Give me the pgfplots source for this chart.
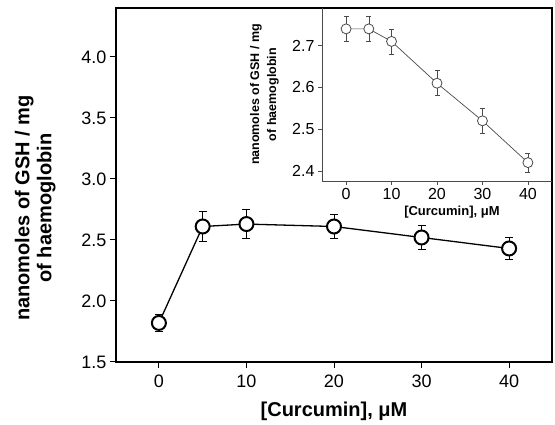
\documentclass[border=0pt]{standalone}
\usepackage{fontspec}
\setmainfont{Liberation Sans}
\usepackage{pgfplots}
\pgfplotsset{compat=1.18}

\definecolor{insetgray}{HTML}{4A4A4A}

\begin{document}
\begin{tikzpicture}
  % main axis
  \begin{axis}[
    at={(116pt,63pt)}, anchor=south west,
    scale only axis,
    width=436pt, height=354pt,
    xmin=-4.9, xmax=44.9,
    ymin=1.5, ymax=4.4,
    xtick={0,10,20,30,40},
    ytick={1.5,2.0,2.5,3.0,3.5,4.0},
    yticklabel style={/pgf/number format/.cd, fixed, fixed zerofill, precision=1},
    xticklabel style={yshift=-3pt},
    /pgf/number format/assume math mode=true,
    tick align=outside, tick pos=left,
    major tick length=6pt,
    tick style={black, line width=1pt},
    axis line style={line width=1.8pt},
    ticklabel style={font=\fontsize{18}{18}\selectfont},
    xlabel={\bfseries [Curcumin], μM},
    xlabel style={at={(axis description cs:0.5,-0.14)}, anchor=center,
      font=\fontsize{20}{22}\selectfont},
    ylabel={\bfseries nanomoles of GSH / mg\\\bfseries of haemoglobin},
    ylabel style={at={(axis description cs:-0.185,0.435)}, anchor=center,
      align=center, font=\fontsize{20}{22}\selectfont},
  ]
    \addplot[black, line width=1.3pt,
      mark=*, mark size=7pt,
      mark options={fill=white, draw=black, line width=2pt},
      error bars/.cd, y dir=both, y explicit,
      error bar style={line width=1pt, black},
      error mark options={rotate=90, mark size=4pt, line width=1pt, black}]
    coordinates {
      (0,1.82)  +- (0,0.07)
      (5,2.61)  +- (0,0.12)
      (10,2.63) +- (0,0.12)
      (20,2.61) +- (0,0.10)
      (30,2.52) +- (0,0.095)
      (40,2.43) +- (0,0.09)
    };
  \end{axis}

  % inset
  \begin{axis}[
    at={(322pt,244pt)}, anchor=south west,
    scale only axis,
    width=230pt, height=173pt,
    xmin=-5.3, xmax=45.3,
    ymin=2.376, ymax=2.79,
    axis x line*=bottom, axis y line*=left,
    xtick={0,10,20,30,40},
    ytick={2.4,2.5,2.6,2.7},
    yticklabel style={/pgf/number format/.cd, fixed, fixed zerofill, precision=1},
    /pgf/number format/assume math mode=true,
    tick align=outside,
    major tick length=4pt,
    tick style={insetgray, line width=0.6pt},
    axis line style={insetgray, line width=0.8pt},
    ticklabel style={font=\fontsize{16}{16}\selectfont},
    xlabel={\bfseries [Curcumin], μM},
    xlabel style={at={(axis description cs:0.565,-0.182)}, anchor=center,
      font=\fontsize{13}{14}\selectfont},
    ylabel={\bfseries nanomoles of GSH / mg\\\bfseries of haemoglobin},
    ylabel style={at={(axis description cs:-0.25,0.5)}, anchor=center,
      align=center, font=\fontsize{12.5}{17}\selectfont},
  ]
    \addplot[insetgray, line width=0.7pt,
      mark=*, mark size=5pt,
      mark options={fill=white, draw=insetgray, line width=0.8pt},
      error bars/.cd, y dir=both, y explicit,
      error bar style={line width=0.6pt, insetgray},
      error mark options={rotate=90, mark size=2.5pt, line width=0.6pt, insetgray}]
    coordinates {
      (0,2.74)  +- (0,0.03)
      (5,2.74)  +- (0,0.03)
      (10,2.71) +- (0,0.03)
      (20,2.61) +- (0,0.03)
      (30,2.52) +- (0,0.03)
      (40,2.42) +- (0,0.022)
    };
  \end{axis}

  \pgfresetboundingbox
  \useasboundingbox (0,0) rectangle (555pt,425pt);
\end{tikzpicture}
\end{document}
